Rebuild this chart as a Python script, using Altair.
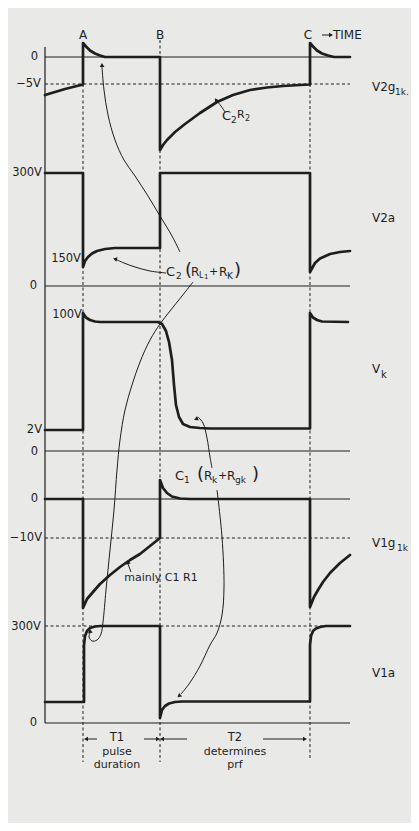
import altair as alt
import pandas as pd

# ---- waveform traces (time axis position, level) ----
v2g_x = [45, 55, 65, 75, 83, 83, 86, 90, 95, 100, 105, 160, 160, 163, 167, 175, 185, 200, 217, 233, 250, 267, 283, 300, 310,
         310, 313, 317, 322, 328, 334, 350]
v2g_y = [95, 92, 89, 86.5, 84.5, 43, 46.5, 50.5, 53.5, 55.5, 57, 57, 150, 145, 140, 132, 124, 113, 102, 95, 90, 87.5, 86, 85, 84.5,
         43, 46.5, 50.5, 53.5, 55.5, 57, 57]

v2a_x = [45, 83, 83, 85, 88, 92, 97, 105, 115, 160, 160, 310, 310, 315, 320, 330, 340, 350]
v2a_y = [173, 173, 267, 261, 257, 253.5, 251, 249, 248, 248, 173, 173, 272, 263, 258.5, 254, 252, 251]

vk_x = [45, 83, 83, 86, 90, 95, 100, 158, 162, 166, 169, 172, 174, 176, 179, 183, 190, 200, 210, 310, 310, 313, 317, 322, 348]
vk_y = [430, 430, 313, 317.5, 320, 321.5, 322, 322, 324, 331, 342, 360, 385, 405, 417, 424, 427, 428, 428.5, 428.5, 313, 317.5, 320, 321.5, 322]

v1g_x = [45, 83, 83, 87, 93, 100, 110, 120, 130, 140, 150, 160, 160, 163, 167, 172, 180, 190, 310, 310, 314, 318, 323, 330, 340, 350]
v1g_y = [499, 499, 608, 599, 592, 584, 575, 567, 560, 554, 546, 538, 480, 488, 493, 496.5, 498.5, 499, 499, 607, 597, 590, 582, 573, 563, 555]

v1a_x = [45, 84, 84, 85, 87, 90, 95, 100, 160, 160, 162, 165, 169, 175, 182, 310, 310, 311, 313, 316, 320, 326, 350]
v1a_y = [702, 702, 645, 636, 631, 628, 626.5, 626, 626, 718, 710, 706, 703.5, 702, 701.5, 701.5, 645, 636, 631, 628.5, 627, 626, 626]

traces = {"V2g": (v2g_x, v2g_y), "V2a": (v2a_x, v2a_y), "Vk": (vk_x, vk_y),
          "V1g": (v1g_x, v1g_y), "V1a": (v1a_x, v1a_y)}

# ---- reference levels ----
zero_levels = [57, 286, 451, 499, 723]          # solid 0 lines
dash_levels = [84, 538, 626]                    # -5V, -10V, 300V dashed
t_start, t_end = 45, 350
edge_times = [83, 160, 310]                     # A, B, C
edge_top = [84, 40, 84]
edge_bottom = [762, 762, 760]

# ---- annotation leader curves ----
leaders = {
    "c2r2": ([225, 221, 217], [112, 106, 101]),
    "toV2g": ([180, 172, 160, 148, 135, 124, 115, 108, 104, 102],
              [252, 236, 216, 196, 176, 160, 140, 115, 90, 67]),
    "toV2a": ([166, 150, 135, 124, 115], [273, 271, 267, 263, 259]),
    "toV1a": ([193, 182, 170, 160, 150, 140, 132, 125, 120, 117, 114, 110, 106, 103, 101, 97, 92, 89, 90],
              [282, 296, 311, 324, 340, 362, 385, 410, 440, 470, 510, 550, 590, 622, 634, 640, 641, 637, 633]),
    "c1up": ([212, 210, 207, 203, 198], [468, 457, 438, 423, 417]),
    "c1down": ([217, 222, 224, 222, 217, 210, 200, 189, 181], [490, 537, 587, 615, 633, 645, 666, 684, 694]),
    "mainly": ([131, 128], [572, 564]),
    "time": [[322, 330], [35, 35]],
    "t1a": ([87, 97], [739, 739]),
    "t1b": ([144, 157], [739, 739]),
    "t2a": ([163, 187], [739, 739]),
    "t2b": ([263, 304], [739, 739]),
}
heads_x = [102, 115, 216, 90, 196, 179, 128, 331, 86, 158, 162, 305]
heads_y = [65, 259, 100, 631, 419, 696, 562, 35, 739, 739, 739, 739]
heads_ang = [358, 285, 325, 350, 250, 230, 350, 90, 270, 90, 270, 90]

# ---- text ----
center_txt = ["A", "B", "C", "T1", "pulse", "duration", "T2", "determines", "prf", "mainly C1 R1"]
center_x = [83, 160, 308, 117, 117, 117, 235, 235, 235, 161]
center_y = [35, 35, 35, 738, 751.5, 765, 738, 751.5, 765, 578]
center_s = [12, 12, 12, 11.5, 11, 11, 11.5, 11, 11, 11]

right_txt = ["0", "−5V", "300V", "150V", "0", "100V", "2V", "0", "0", "−10V", "300V", "0"]
right_x = [38, 41, 42, 81, 37, 82, 42, 38, 38, 42, 41, 37]
right_y = [57, 84, 173, 259, 286, 315, 430, 452, 499, 538, 627, 723]

left_txt = ["TIME", "V2g", "1k.", "V2a", "V", "k", "V1g", "1k", "V1a",
            "C", "2", "R", "2",
            "C", "2", "(", "R", "L", "1", "+", "R", "K", ")",
            "C", "1", "(", "R", "k", "+", "R", "gk", ")"]
left_x = [333, 372, 395, 372, 372, 381, 372, 397, 372,
          222, 231, 237, 245,
          166, 176, 185, 191, 199, 204, 209, 219, 227, 234,
          175, 184, 197, 204, 212, 218, 227, 235, 252]
left_y = [35, 87, 92, 218, 369, 375, 543, 548, 673,
          116, 120, 115, 119,
          272, 276, 271, 272, 276, 277, 272, 272, 276, 271,
          476, 480, 475, 476, 480, 476, 476, 480, 475]
left_s = [12, 12, 9, 12, 12, 10, 12, 9, 12,
          13, 9, 11, 8,
          13, 9, 18, 12, 8, 7, 11, 12, 9, 18,
          13, 9, 18, 12, 9, 11, 12, 9, 18]

INK = "#1e1e1e"
FONT = "DejaVu Sans"

wave_df = pd.DataFrame([{"trace": k, "o": i, "x": x, "y": y}
                        for k, (xs, ys) in traces.items() for i, (x, y) in enumerate(zip(xs, ys))])
lead_df = pd.DataFrame([{"id": k, "o": i, "x": x, "y": y}
                        for k, (xs, ys) in leaders.items() for i, (x, y) in enumerate(zip(xs, ys))])
zero_df = pd.DataFrame({"y": zero_levels, "x": t_start, "x2": t_end})
dash_df = pd.DataFrame({"y": dash_levels, "x": t_start, "x2": t_end})
edge_df = pd.DataFrame({"x": edge_times, "y": edge_top, "y2": edge_bottom})
axis_df = pd.DataFrame({"x": [t_start], "y": [47], "y2": [zero_levels[-1]]})
head_df = pd.DataFrame({"x": heads_x, "y": heads_y, "a": heads_ang})
ctext = pd.DataFrame({"t": center_txt, "x": center_x, "y": center_y, "s": center_s})
rtext = pd.DataFrame({"t": right_txt, "x": right_x, "y": right_y})
ltext = pd.DataFrame({"t": left_txt, "x": left_x, "y": left_y, "s": left_s})

X = alt.X("x:Q", scale=alt.Scale(domain=[8, 411], nice=False, zero=False), axis=None)
Y = alt.Y("y:Q", scale=alt.Scale(domain=[8, 823], reverse=True, nice=False, zero=False), axis=None)

zero_lines = alt.Chart(zero_df).mark_rule(color=INK, strokeWidth=1).encode(x=X, x2="x2:Q", y=Y)
axis_line = alt.Chart(axis_df).mark_rule(color=INK, strokeWidth=1.2).encode(x=X, y=Y, y2="y2:Q")
dash_lines = alt.Chart(dash_df).mark_rule(color=INK, strokeWidth=1, strokeDash=[3, 2.5]).encode(x=X, x2="x2:Q", y=Y)
edge_lines = alt.Chart(edge_df).mark_rule(color=INK, strokeWidth=1, strokeDash=[3, 2.5]).encode(x=X, y=Y, y2="y2:Q")

waves = alt.Chart(wave_df).mark_line(color=INK, strokeWidth=2.7, strokeJoin="round", strokeCap="round").encode(
    x=X, y=Y, detail="trace:N", order="o:Q")
leads = alt.Chart(lead_df).mark_line(color=INK, strokeWidth=1, interpolate="catmull-rom").encode(
    x=X, y=Y, detail="id:N", order="o:Q")
heads = alt.Chart(head_df).mark_point(shape="triangle-up", filled=True, color=INK, size=22, opacity=1).encode(
    x=X, y=Y, angle=alt.Angle("a:Q", scale=None))

t_center = alt.Chart(ctext).mark_text(font=FONT, color=INK, align="center", baseline="middle").encode(
    x=X, y=Y, text="t:N", size=alt.Size("s:Q", scale=None))
t_right = alt.Chart(rtext).mark_text(font=FONT, color=INK, align="right", baseline="middle", fontSize=11.5).encode(
    x=X, y=Y, text="t:N")
t_left = alt.Chart(ltext).mark_text(font=FONT, color=INK, align="left", baseline="middle").encode(
    x=X, y=Y, text="t:N", size=alt.Size("s:Q", scale=None))

chart = alt.layer(zero_lines, axis_line, dash_lines, edge_lines, leads, heads, waves,
                  t_center, t_right, t_left).properties(
    width=403, height=815, padding=0, autosize=alt.AutoSizeParams(type="none"),
    background="#e9e9e7"
).configure_view(stroke=None)

chart.save("out.html", embed_options={"renderer": "svg", "actions": False})
